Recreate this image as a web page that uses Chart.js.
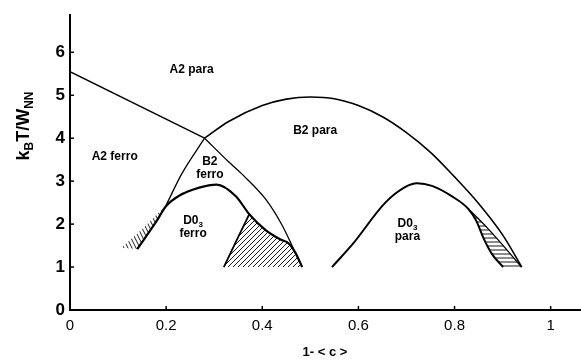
<!DOCTYPE html>
<html>
<head>
<meta charset="utf-8">
<script src="https://cdn.jsdelivr.net/npm/chart.js@4/dist/chart.umd.min.js"></script>
<style>
  body { margin: 0; background: #fff; }
</style>
</head>
<body>
<canvas id="phase" width="581" height="361"></canvas>
<script>
const xTicks = [0, 0.2, 0.4, 0.6, 0.8, 1];
const yTicks = [0, 1, 2, 3, 4, 5, 6];

// phase boundaries as [1-<c>, kT/W] pairs, ascending in 1-<c>
const a2Boundary = [[0, 5.55], [0.28, 4.0]];
const b2ParaDome = [[0.28, 4.0], [0.33, 4.39], [0.4, 4.76], [0.45, 4.91], [0.5, 4.96], [0.55, 4.92], [0.6, 4.76], [0.65, 4.5], [0.7, 4.13], [0.75, 3.67], [0.8, 3.1], [0.85, 2.48], [0.9, 1.75], [0.94, 1.0]];
const b2FerroLeft = [[0.107, 1.45], [0.151, 1.89], [0.2, 2.44], [0.233, 3.18], [0.28, 4.0]];
const b2FerroRight = [[0.28, 4.0], [0.33, 3.45], [0.36, 3.14], [0.407, 2.58], [0.441, 1.98], [0.469, 1.33], [0.483, 1.0]];
const d03FerroDome = [[0.14, 1.42], [0.179, 2.05], [0.2, 2.42], [0.227, 2.66], [0.269, 2.85], [0.305, 2.92], [0.345, 2.65], [0.373, 2.23], [0.407, 1.86], [0.438, 1.64], [0.455, 1.55], [0.469, 1.33], [0.483, 1.0]];
const d03FerroSplit = [[0.32, 1.0], [0.352, 1.75], [0.373, 2.23]];
const d03ParaDome = [[0.545, 1.0], [0.587, 1.52], [0.656, 2.5], [0.697, 2.86], [0.722, 2.95], [0.753, 2.89], [0.794, 2.65], [0.829, 2.35], [0.845, 2.08], [0.86, 1.68], [0.878, 1.3], [0.901, 1.0]];
const d03ParaSplit = [[0.829, 2.35], [0.87, 1.89], [0.912, 1.36], [0.939, 1.0]];

// two-phase regions, closed outlines made from the boundaries above
const leftTwoPhase = [...b2FerroLeft.slice(0, 3), ...d03FerroDome.slice(0, 2).reverse()];
const middleTwoPhase = [...d03FerroDome.slice(7), ...d03FerroSplit];
const rightTwoPhase = [...d03ParaSplit, ...d03ParaDome.slice(7).reverse()];

// region names: each line is a list of [text, subscript?]
const regionLabels = [
  { x: 0.253, y: 5.6, lines: [[['A2 para', false]]] },
  { x: 0.093, y: 3.56, lines: [[['A2 ferro', false]]] },
  { x: 0.51, y: 4.18, lines: [[['B2 para', false]]] },
  { x: 0.291, y: 3.45, lines: [[['B2', false]], [['ferro', false]]] },
  { x: 0.256, y: 2.07, lines: [[['D0', false], ['3', true]], [['ferro', false]]] },
  { x: 0.702, y: 2.0, lines: [[['D0', false], ['3', true]], [['para', false]]] }
];
const yTitle = [['k', false], ['B', true], ['T/W', false], ['NN', true]];

const FONT = '"Liberation Sans", Arial, sans-serif';
const pts = arr => arr.map(([x, y]) => ({ x, y }));

function hatch(w, h, draw) {
  const c = document.createElement('canvas');
  c.width = w; c.height = h;
  const g = c.getContext('2d');
  g.strokeStyle = '#000';
  g.lineWidth = 0.9;
  draw(g, w, h);
  return g.createPattern(c, 'repeat');
}
const steepHatch = hatch(4, 8, (g, w, h) => {
  g.beginPath();
  g.moveTo(0, 0); g.lineTo(w, h);
  g.moveTo(-w, 0); g.lineTo(0, h);
  g.moveTo(w, 0); g.lineTo(2 * w, h);
  g.stroke();
});
const diagHatch = hatch(5, 5, (g, w, h) => {
  g.beginPath();
  g.moveTo(0, h); g.lineTo(w, 0);
  g.moveTo(-1, 1); g.lineTo(1, -1);
  g.moveTo(w - 1, h + 1); g.lineTo(w + 1, h - 1);
  g.stroke();
});
const flatHatch = hatch(4, 4, (g, w) => {
  g.beginPath();
  g.moveTo(0, 2); g.lineTo(w, 2);
  g.stroke();
});

function curve(points, width) {
  return {
    data: pts(points), showLine: true, fill: false, cubicInterpolationMode: 'monotone',
    borderColor: '#000', borderWidth: width, pointRadius: 0
  };
}
function region(points, pattern) {
  return {
    data: pts(points), showLine: true, fill: 'shape', tension: 0,
    backgroundColor: pattern, borderWidth: 0, borderColor: 'rgba(0,0,0,0)', pointRadius: 0
  };
}

function drawRich(ctx, parts, cx, cy, size) {
  const mainFont = `bold ${size}px ${FONT}`;
  const subFont = `bold ${Math.round(size * 0.68)}px ${FONT}`;
  let total = 0;
  parts.forEach(([t, sub]) => { ctx.font = sub ? subFont : mainFont; total += ctx.measureText(t).width; });
  let px = cx - total / 2;
  ctx.textBaseline = 'middle';
  ctx.textAlign = 'left';
  parts.forEach(([t, sub]) => {
    ctx.font = sub ? subFont : mainFont;
    ctx.fillText(t, px, cy + (sub ? size * 0.3 : 0));
    px += ctx.measureText(t).width;
  });
}

const annotations = {
  id: 'annotations',
  afterDraw(chart) {
    const { ctx, scales: { x, y } } = chart;
    ctx.save();
    ctx.strokeStyle = '#000';
    ctx.fillStyle = '#000';
    ctx.lineWidth = 1.5;
    // tick marks point into the plot
    xTicks.slice(1).forEach(v => {
      const px = x.getPixelForValue(v);
      ctx.beginPath(); ctx.moveTo(px, y.bottom); ctx.lineTo(px, y.bottom - 4); ctx.stroke();
    });
    yTicks.slice(1).forEach(v => {
      const py = y.getPixelForValue(v);
      ctx.beginPath(); ctx.moveTo(x.left, py); ctx.lineTo(x.left + 4, py); ctx.stroke();
    });
    regionLabels.forEach(l => {
      const cx = x.getPixelForValue(l.x);
      const cy = y.getPixelForValue(l.y);
      l.lines.forEach((parts, i) => drawRich(ctx, parts, cx, cy + i * 13, 12));
    });
    ctx.translate(24, 126);
    ctx.rotate(-Math.PI / 2);
    drawRich(ctx, yTitle, 0, 0, 18);
    ctx.restore();
  }
};

new Chart(document.getElementById('phase'), {
  type: 'scatter',
  data: {
    datasets: [
      curve(a2Boundary, 1.4),
      curve(b2ParaDome, 1.6),
      curve(b2FerroLeft.slice(2), 1.3),
      curve(b2FerroRight, 1.3),
      curve(d03FerroDome, 2.2),
      curve(d03FerroSplit, 1.8),
      curve(d03ParaDome, 2.0),
      curve(d03ParaSplit, 1.3),
      region(leftTwoPhase, steepHatch),
      region(middleTwoPhase, diagHatch),
      region(rightTwoPhase, flatHatch)
    ]
  },
  options: {
    responsive: false,
    animation: false,
    layout: { padding: { top: 8, right: 1, left: 0, bottom: 0 } },
    plugins: { legend: { display: false }, tooltip: { enabled: false } },
    scales: {
      x: {
        type: 'linear', min: 0, max: 1.061,
        afterBuildTicks: s => { s.ticks = xTicks.map(value => ({ value })); },
        afterFit: s => { s.height = 51; },
        grid: { display: false, drawTicks: false },
        border: { display: true, color: '#000', width: 2 },
        ticks: { padding: 7, color: '#000', font: { family: FONT, size: 15 }, callback: v => String(v) },
        title: {
          display: true, text: '1- < c >', color: '#000',
          font: { family: FONT, size: 13, weight: 'bold' }, padding: { top: 0, bottom: 1 }
        }
      },
      y: {
        type: 'linear', min: 0, max: 6.864,
        afterBuildTicks: s => { s.ticks = yTicks.map(value => ({ value })); },
        afterFit: s => { s.width = 70; },
        grid: { display: false, drawTicks: false },
        border: { display: true, color: '#000', width: 2 },
        ticks: { padding: 5, color: '#000', font: { family: FONT, size: 17, weight: 'bold' } }
      }
    }
  },
  plugins: [annotations]
});
</script>
</body>
</html>
